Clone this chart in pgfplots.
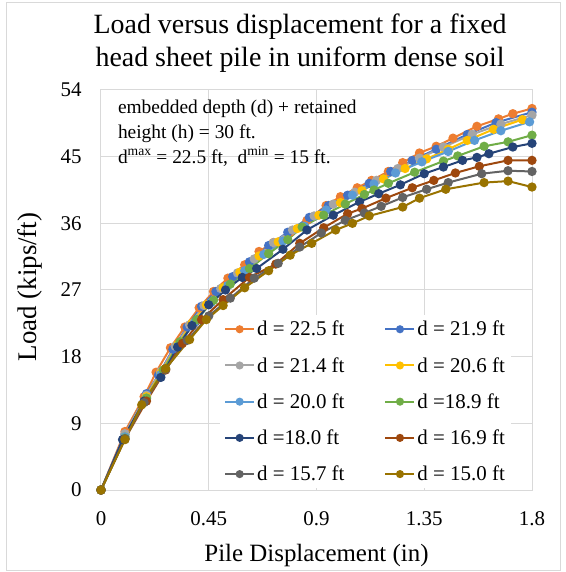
\documentclass[border=0pt]{standalone}
\usepackage{fontspec}
\setmainfont{Liberation Serif}
\usepackage{pgfplots}
\pgfplotsset{compat=1.18}

\definecolor{gridc}{HTML}{D9D9D9}
\definecolor{cA}{HTML}{ED7D31}
\definecolor{cB}{HTML}{4472C4}
\definecolor{cC}{HTML}{A5A5A5}
\definecolor{cD}{HTML}{FFC000}
\definecolor{cE}{HTML}{5B9BD5}
\definecolor{cF}{HTML}{70AD47}
\definecolor{cG}{HTML}{264478}
\definecolor{cH}{HTML}{9E480E}
\definecolor{cI}{HTML}{636363}
\definecolor{cJ}{HTML}{997300}

\pgfplotsset{
  ser/.style={color=#1, line width=2bp, mark=*, mark size=3.6bp, mark options={solid, fill=#1}},
}

\begin{document}
\begin{tikzpicture}
\path (-101bp,-82bp) rectangle (465bp,490bp);
\draw[gridc, line width=0.8bp] (-95bp,-80bp) rectangle (459bp,488bp);
\begin{axis}[
  at={(0,0)}, anchor=south west,
  scale only axis, width=431bp, height=400bp,
  xmin=0, xmax=1.8, ymin=0, ymax=54,
  xtick={0,0.45,0.9,1.35,1.8}, xticklabels={0,0.45,0.9,1.35,1.8},
  ytick={0,9,18,27,36,45,54},
  grid=major, major grid style={gridc, line width=1bp},
  axis line style={gridc, line width=1bp},
  major tick length=0pt,
  tick label style={font=\fontsize{21}{21}\selectfont, text=black},
  /pgf/number format/assume math mode=true,
  xticklabel style={yshift=-18bp},
  yticklabel style={xshift=-16bp},
  title={Load versus displacement for a fixed\\head sheet pile in uniform dense soil},
  title style={at={(axis description cs:0.462,1.103)}, anchor=center, align=center, font=\fontsize{28}{33}\selectfont},
  xlabel={Pile Displacement (in)},
  xlabel style={at={(axis description cs:0.5,-0.163)}, anchor=center, font=\fontsize{25}{25}\selectfont},
  ylabel={Load (kips/ft)},
  ylabel style={at={(axis description cs:-0.165,0.5075)}, anchor=center, rotate=0, font=\fontsize{27}{27}\selectfont},
  legend columns=2,
  legend cell align=left,
  legend style={at={(axis description cs:0.276,0.004)}, anchor=south west, fill=white, draw=none,
    font=\fontsize{21}{21}\selectfont, row sep=16bp, inner sep=4bp,
    /tikz/every even column/.append style={column sep=38bp}},
  legend image code/.code={\draw[#1, mark size=3bp, mark repeat=2, mark phase=2] plot coordinates {(0bp,0bp) (14.5bp,0bp) (29bp,0bp)};},
]
\addplot[ser=cA] coordinates {(0,0) (0.10,7.9) (0.18,12.6) (0.23,15.9) (0.29,19.2) (0.35,22.0) (0.41,24.6) (0.47,26.8) (0.53,28.6) (0.60,30.4) (0.66,32.2) (0.72,33.4) (0.79,34.8) (0.86,36.4) (0.94,38.4) (1.00,39.6) (1.07,40.8) (1.13,41.8) (1.20,43.0) (1.26,44.2) (1.33,45.5) (1.40,46.4) (1.47,47.5) (1.57,49.1) (1.66,50.1) (1.72,50.8) (1.80,51.5)};
\addlegendentry{d = 22.5 ft}
\addplot[ser=cB] coordinates {(0,0) (0.10,7.5) (0.19,13.0) (0.24,15.5) (0.30,19.0) (0.36,22.0) (0.42,24.8) (0.48,26.8) (0.55,28.8) (0.62,30.8) (0.70,33.0) (0.78,34.8) (0.87,36.8) (0.95,38.4) (1.03,39.8) (1.12,41.4) (1.21,43.0) (1.30,44.5) (1.40,46.0) (1.53,48.0) (1.65,49.6) (1.80,51.0)};
\addlegendentry{d = 21.9 ft}
\addplot[ser=cC] coordinates {(0,0) (0.10,7.6) (0.19,12.8) (0.25,16.0) (0.31,19.4) (0.37,22.3) (0.43,24.9) (0.50,27.2) (0.57,29.3) (0.64,31.2) (0.72,33.4) (0.80,35.1) (0.89,37.0) (0.97,38.6) (1.06,40.2) (1.15,41.8) (1.24,43.4) (1.33,44.8) (1.43,46.3) (1.55,48.0) (1.67,49.4) (1.80,50.6)};
\addlegendentry{d = 21.4 ft}
\addplot[ser=cD] coordinates {(0,0) (0.10,7.2) (0.19,12.6) (0.25,15.8) (0.32,19.6) (0.38,22.5) (0.44,25.0) (0.51,27.3) (0.58,29.4) (0.66,31.6) (0.74,33.5) (0.82,35.3) (0.91,37.1) (1.00,38.8) (1.09,40.4) (1.18,42.0) (1.27,43.4) (1.36,44.7) (1.45,46.0) (1.53,47.2) (1.64,48.7) (1.76,50.0)};
\addlegendentry{d = 20.6 ft}
\addplot[ser=cE] coordinates {(0,0) (0.10,7.2) (0.19,12.4) (0.25,15.6) (0.32,19.4) (0.39,22.6) (0.46,25.3) (0.53,27.6) (0.60,29.6) (0.68,31.8) (0.76,33.6) (0.85,35.6) (0.94,37.8) (1.05,39.8) (1.14,41.3) (1.23,42.8) (1.34,44.3) (1.45,45.7) (1.56,47.2) (1.67,48.5) (1.79,49.7)};
\addlegendentry{d = 20.0 ft}
\addplot[ser=cF] coordinates {(0,0) (0.10,7.0) (0.19,12.4) (0.26,16.2) (0.33,20.0) (0.40,23.0) (0.47,25.6) (0.54,27.8) (0.62,29.9) (0.70,31.9) (0.78,33.8) (0.84,35.5) (0.93,37.1) (1.02,38.6) (1.10,39.9) (1.14,40.5) (1.20,41.4) (1.31,42.9) (1.43,44.4) (1.49,45.1) (1.60,46.4) (1.70,47.0) (1.80,47.9)};
\addlegendentry{d =18.9 ft}
\addplot[ser=cG] coordinates {(0,0) (0.09,6.8) (0.18,12.0) (0.25,15.2) (0.32,19.3) (0.38,22.2) (0.45,25.0) (0.52,27.0) (0.59,28.7) (0.65,29.9) (0.76,32.5) (0.86,35.1) (0.97,37.1) (1.08,38.9) (1.16,40.0) (1.25,41.2) (1.35,42.7) (1.43,43.6) (1.51,44.5) (1.57,44.9) (1.62,45.4) (1.72,46.3) (1.80,46.8)};
\addlegendentry{d =18.0 ft}
\addplot[ser=cH] coordinates {(0,0) (0.10,6.9) (0.19,12.0) (0.27,16.2) (0.34,19.8) (0.42,23.0) (0.51,25.7) (0.62,28.7) (0.73,30.5) (0.83,33.3) (0.93,35.4) (1.03,37.3) (1.09,38.0) (1.19,39.4) (1.30,40.8) (1.39,41.8) (1.48,42.8) (1.58,43.7) (1.70,44.5) (1.80,44.5)};
\addlegendentry{d = 16.9 ft}
\addplot[ser=cI] coordinates {(0,0) (0.10,6.9) (0.18,11.8) (0.27,16.3) (0.36,20.2) (0.45,23.5) (0.54,25.9) (0.64,28.6) (0.74,30.6) (0.83,32.8) (0.92,34.7) (1.02,36.4) (1.10,37.4) (1.17,38.3) (1.26,39.5) (1.36,40.6) (1.45,41.5) (1.59,42.7) (1.70,43.1) (1.80,43.0)};
\addlegendentry{d = 15.7 ft}
\addplot[ser=cJ] coordinates {(0,0) (0.10,6.8) (0.17,11.5) (0.27,16.4) (0.37,20.3) (0.44,23.0) (0.51,24.9) (0.60,27.3) (0.70,29.6) (0.79,31.7) (0.88,33.3) (0.98,35.1) (1.05,36.0) (1.12,37.0) (1.26,38.2) (1.33,39.4) (1.44,40.6) (1.60,41.5) (1.70,41.7) (1.80,40.9)};
\addlegendentry{d = 15.0 ft}
\node[anchor=north west, align=left, inner sep=0pt, font=\fontsize{19.5}{25}\selectfont] at (axis description cs:0.039,0.975)
  {embedded depth (d) + retained\\height (h) = 30 ft.\\d\textsuperscript{max} = 22.5 ft,\ \ d\textsuperscript{min} = 15 ft.};
\end{axis}
\end{tikzpicture}
\end{document}
